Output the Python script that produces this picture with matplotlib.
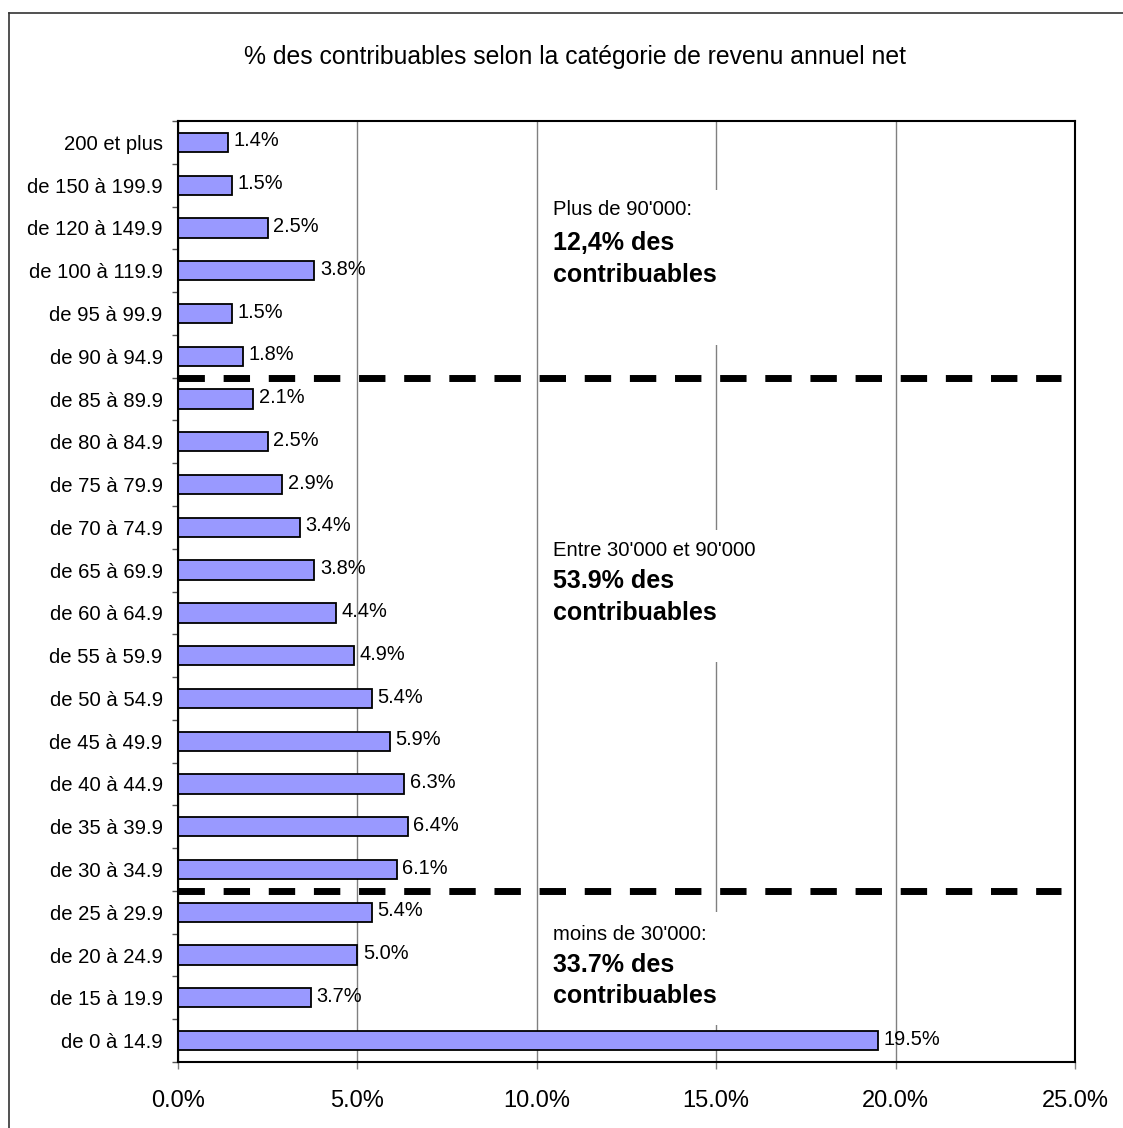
import matplotlib
matplotlib.use("Agg")
import matplotlib.pyplot as plt
from matplotlib.patches import Rectangle
from matplotlib.lines import Line2D

plt.rcParams['font.family'] = ['Liberation Sans', 'DejaVu Sans']

categories = ["200 et plus", "de 150 à 199.9", "de 120 à 149.9", "de 100 à 119.9",
              "de 95 à 99.9", "de 90 à 94.9", "de 85 à 89.9", "de 80 à 84.9",
              "de 75 à 79.9", "de 70 à 74.9", "de 65 à 69.9", "de 60 à 64.9",
              "de 55 à 59.9", "de 50 à 54.9", "de 45 à 49.9", "de 40 à 44.9",
              "de 35 à 39.9", "de 30 à 34.9", "de 25 à 29.9", "de 20 à 24.9",
              "de 15 à 19.9", "de 0 à 14.9"]
values = [1.4, 1.5, 2.5, 3.8, 1.5, 1.8, 2.1, 2.5, 2.9, 3.4, 3.8, 4.4, 4.9, 5.4,
          5.9, 6.3, 6.4, 6.1, 5.4, 5.0, 3.7, 19.5]
xticks = [0, 5, 10, 15, 20, 25]
xtick_labels = ["0.0%", "5.0%", "10.0%", "15.0%", "20.0%", "25.0%"]
title = "% des contribuables selon la catégorie de revenu annuel net"
# group separators (between category index boundaries)
separators = [5.5, 17.5]
groups = [
    ("Plus de 90'000:", "12,4% des", "contribuables"),
    ("Entre 30'000 et 90'000", "53.9% des", "contribuables"),
    ("moins de 30'000:", "33.7% des", "contribuables"),
]
group_text_y = [(1.58, 2.35, 3.10), (9.53, 10.25, 11.0), (18.51, 19.23, 19.96)]
group_box_y = [(1.11, 4.74), (9.06, 12.15), (17.99, 20.63)]

W, H = 1123, 1128
fig = plt.figure(figsize=(W / 100, H / 100), dpi=100)
ax = fig.add_axes([178 / W, (H - 1062) / H, 897 / W, 941 / H])

ypos = list(range(len(categories)))
ax.barh(ypos, values, height=0.45, color="#9999FF", edgecolor="black",
        linewidth=1.3, zorder=3)
for y, v in zip(ypos, values):
    ax.annotate(f"{v:.1f}%", (v, y), xytext=(4, 1), textcoords="offset points",
                ha="left", va="center", fontsize=14.4, zorder=4)

ax.set_xlim(0, 25)
ax.set_ylim(len(categories) - 0.5, -0.5)
ax.set_xticks(xticks)
ax.set_xticklabels(xtick_labels, fontsize=17)
ax.set_yticks(ypos)
ax.set_yticklabels(categories, fontsize=14.6)
ax.set_yticks([i - 0.5 for i in range(len(categories) + 1)], minor=True)
ax.tick_params(axis="y", which="major", length=0, pad=11)
ax.tick_params(axis="y", which="minor", length=4, width=1, color="#555555", direction="out")
ax.tick_params(axis="x", which="major", length=5, width=1, color="#808080",
               direction="out", pad=15)

ax.grid(axis="x", color="#808080", linewidth=1, zorder=0)
ax.set_axisbelow(True)
for s in ax.spines.values():
    s.set_color("black")
    s.set_linewidth(1.5)
    s.set_zorder(6)

for sy in separators:
    ax.plot([0, 24.6], [sy, sy], color="black", linewidth=5,
            linestyle=(0, (3.8, 2.7)), solid_capstyle="butt",
            dash_capstyle="butt", zorder=5, clip_on=False)

for (l1, l2, l3), (y1, y2, y3), (b0, b1) in zip(groups, group_text_y, group_box_y):
    ax.add_patch(Rectangle((10.2, b0), 5.5, b1 - b0, facecolor="white",
                           edgecolor="none", zorder=1))
    ax.text(10.45, y1, l1, fontsize=14.6, ha="left", va="center", zorder=4)
    ax.text(10.45, y2, l2, fontsize=18, fontweight="bold", ha="left", va="center", zorder=4)
    ax.text(10.45, y3, l3, fontsize=18, fontweight="bold", ha="left", va="center", zorder=4)

fig.text(575 / W, 1 - 57 / H, title, fontsize=17.8, ha="center", va="center")

# outer frame (top and left visible)
fig.add_artist(Line2D([9 / W, 1.0], [1 - 13 / H, 1 - 13 / H], color="#333333", linewidth=1.2))
fig.add_artist(Line2D([9 / W, 9 / W], [0.0, 1 - 13 / H], color="#333333", linewidth=1.2))

fig.savefig("out.png", dpi=100, facecolor="white")
